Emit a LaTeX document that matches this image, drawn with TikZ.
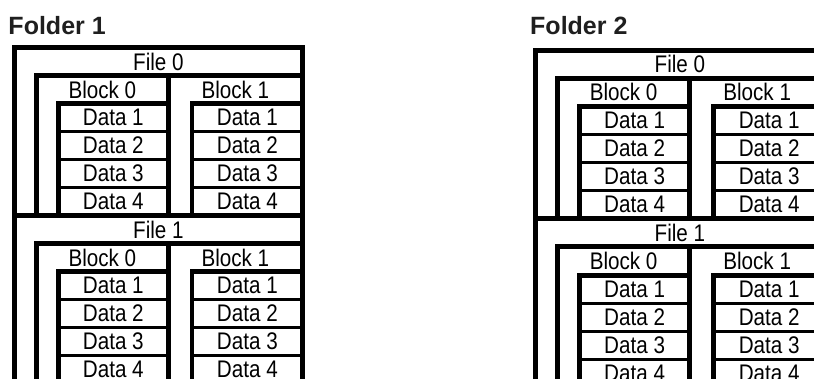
\documentclass[tikz,border=0pt]{standalone}
\usepackage{fontspec}
\setmainfont{Liberation Sans}
\newfontfamily\lblfont[FakeStretch=0.86]{Liberation Sans}
\newcommand\drawfolder[6]{%
\begin{scope}[shift={(#2,#3)}, scale=#4]
  \draw[line width=#5, line cap=rect, line join=miter] (0,400) -- (0,0) -- (288.2,0) -- (288.2,400);
  \draw[line width=#5, line cap=rect] (0,168) -- (288.2,168);
  \foreach \f in {0,1} {
    \pgfmathsetmacro\Y{168*\f}
    % block frame
    \draw[line width=#5, line cap=rect, line join=miter] (22.2,\Y+168) -- (22.2,\Y+28) -- (288.2,\Y+28);
    \draw[line width=#5, line cap=rect] (154,\Y+28) -- (154,\Y+168);
    % data frames
    \draw[line width=#5, line cap=rect, line join=miter] (44,\Y+168) -- (44,\Y+56) -- (154,\Y+56);
    \draw[line width=#5, line cap=rect, line join=miter] (177.9,\Y+168) -- (177.9,\Y+56) -- (288.2,\Y+56);
    \foreach \r in {84,112,140} {
      \draw[line width=#6] (44,\Y+\r) -- (154,\Y+\r);
      \draw[line width=#6] (177.9,\Y+\r) -- (288.2,\Y+\r);
    }
    \node[lbl] (#1-file\f) at (144.1,\Y+14) {File \f};
    \node[lbl] (#1-file\f-b0) at (88.1,\Y+42) {Block 0};
    \node[lbl] (#1-file\f-b1) at (221.1,\Y+42) {Block 1};
    \foreach \d in {1,...,4} {
      \node[lbl] (#1-file\f-b0-d\d) at (99,\Y+42+28*\d) {Data \d};
      \node[lbl] (#1-file\f-b1-d\d) at (233.05,\Y+42+28*\d) {Data \d};
    }
  }
\end{scope}}
\begin{document}
\begin{tikzpicture}[x=1pt,y=-1pt,
  lbl/.style={inner sep=0pt, font=\lblfont\fontsize{24}{24}\selectfont},
  ttl/.style={inner sep=0pt, anchor=base west, font=\bfseries\fontsize{25}{25}\selectfont, text=black!88}]
\useasboundingbox (0,0) rectangle (814,379);
\clip (0,0) rectangle (814,379);
\node[ttl] (title1) at (8.3,35) {Folder 1};
\node[ttl] (title2) at (530,35) {Folder 2};
\drawfolder{A}{14.3}{47.5}{1}{4.5pt}{2.3pt}
\drawfolder{B}{535.2}{50.2}{1.004}{5pt}{2.7pt}
\end{tikzpicture}
\end{document}
